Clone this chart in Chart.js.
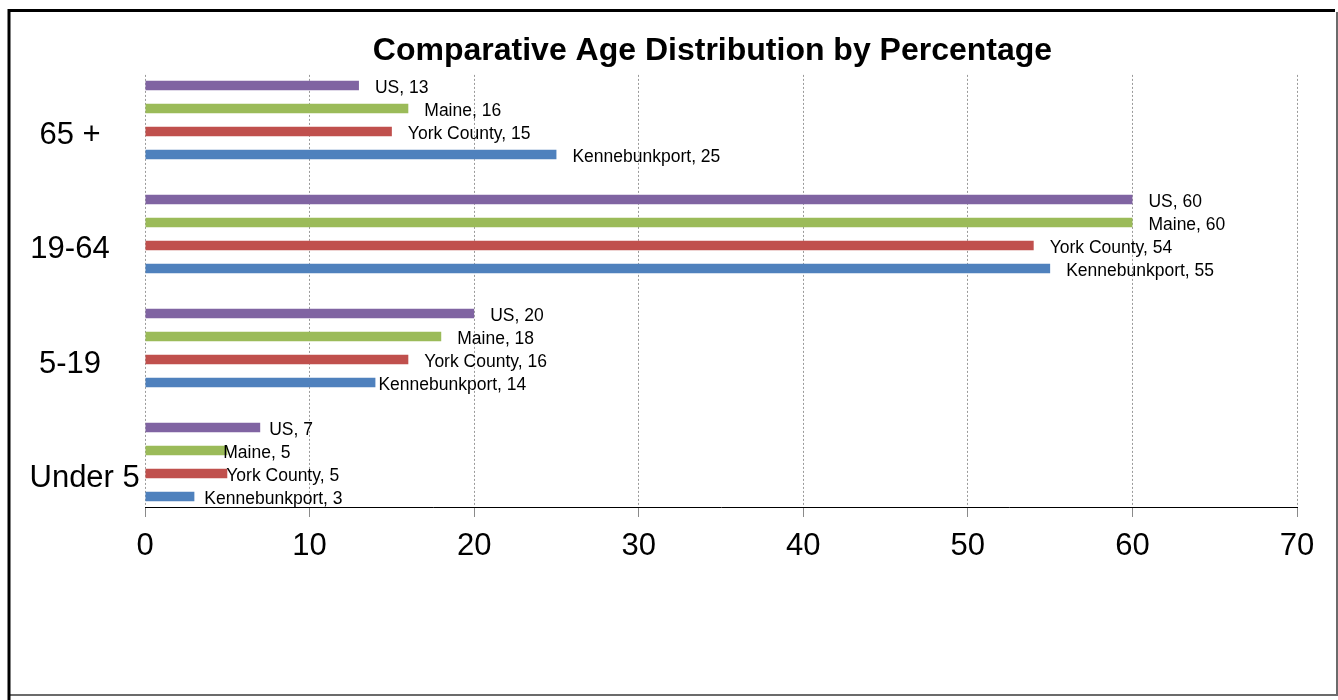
<!DOCTYPE html>
<html>
<head>
<meta charset="utf-8">
<title>Comparative Age Distribution by Percentage</title>
<script src="https://cdn.jsdelivr.net/npm/chart.js@4.4.1/dist/chart.umd.min.js"></script>
<style>
  html, body { margin: 0; padding: 0; background: #ffffff; }
  #wrap { position: relative; width: 1338px; height: 700px; }
</style>
</head>
<body>
<div id="wrap"><canvas id="chart" width="1338" height="700"></canvas></div>
<script>
// Age groups, listed top to bottom
const categories = ['65 +', '19-64', '5-19', 'Under 5'];

// Share of population (%) in each age group
const usValues            = [13, 60, 20, 7];
const maineValues         = [16, 60, 18, 5];
const yorkCountyValues    = [15, 54, 16, 5];
const kennebunkportValues = [25, 55, 14, 3];

const seriesNames = ['US', 'Maine', 'York County', 'Kennebunkport'];

// Percentage axis
const xMin = 0;
const xMax = 70;
const xStep = 10;

// Hand-placed nudges (px) for value labels that would otherwise collide
const labelShift = {
  'US':            [0, 0, 0, -7],
  'Maine':         [0, 0, 0, -20],
  'York County':   [0, 0, 0, -17],
  'Kennebunkport': [0, 0, -13, -6]
};

const FONT = "'Liberation Sans', Arial, Helvetica, sans-serif";
Chart.defaults.font.family = FONT;

const palette = ['#8064A2', '#9BBB59', '#C0504D', '#4F81BD'];
const seriesValues = [usValues, maineValues, yorkCountyValues, kennebunkportValues];

const datasets = seriesNames.map((name, s) => ({
  label: name,
  data: seriesValues[s].map((v, i) => ({ x: v, y: i })),
  backgroundColor: palette[s],
  borderWidth: 0,
  categoryPercentage: 0.807,
  barPercentage: 0.41
}));

// "Series, value" labels just past the end of each bar
const valueLabels = {
  id: 'valueLabels',
  afterDatasetsDraw(chart) {
    const ctx = chart.ctx;
    ctx.save();
    ctx.font = '17.5px ' + FONT;
    ctx.fillStyle = '#000000';
    ctx.textAlign = 'left';
    ctx.textBaseline = 'middle';
    chart.data.datasets.forEach((ds, s) => {
      const meta = chart.getDatasetMeta(s);
      meta.data.forEach((bar, i) => {
        const shift = (labelShift[ds.label] || [])[i] || 0;
        ctx.fillText(ds.label + ', ' + ds.data[i].x, bar.x + 16 + shift, bar.y + 3);
      });
    });
    ctx.restore();
  }
};

// Age-group names beside each group of bars
const groupLabels = {
  id: 'groupLabels',
  afterDraw(chart) {
    const ctx = chart.ctx;
    const yScale = chart.scales.y;
    ctx.save();
    ctx.font = '31px ' + FONT;
    ctx.fillStyle = '#000000';
    ctx.textBaseline = 'middle';
    ctx.textAlign = 'left';
    categories.forEach((name, i) => {
      const w = ctx.measureText(name).width;
      const left = Math.max(70 - w / 2, 29.5);
      ctx.fillText(name, left, yScale.getPixelForValue(i) + 16);
    });
    ctx.restore();
  }
};

// Outer frame of the chart object
const frame = {
  id: 'frame',
  afterDraw(chart) {
    const ctx = chart.ctx;
    ctx.save();
    ctx.lineCap = 'butt';
    ctx.strokeStyle = '#6b6b6b';
    ctx.lineWidth = 2;
    ctx.beginPath();
    ctx.moveTo(1337, 12); ctx.lineTo(1337, 696);
    ctx.moveTo(10, 695); ctx.lineTo(1338, 695);
    ctx.stroke();
    ctx.strokeStyle = '#000000';
    ctx.lineWidth = 3;
    ctx.beginPath();
    ctx.moveTo(7.5, 10.5); ctx.lineTo(1335, 10.5);
    ctx.moveTo(9, 9); ctx.lineTo(9, 700);
    ctx.stroke();
    ctx.restore();
  }
};

new Chart(document.getElementById('chart'), {
  type: 'bar',
  data: { datasets },
  options: {
    indexAxis: 'y',
    responsive: false,
    animation: false,
    devicePixelRatio: 1,
    layout: { padding: { top: 21.5, left: 128, right: 41, bottom: 0 } },
    plugins: {
      legend: { display: false },
      tooltip: { enabled: false },
      title: {
        display: true,
        text: 'Comparative Age Distribution by Percentage',
        color: '#000000',
        font: { family: FONT, size: 32, weight: 'bold' },
        padding: { top: 10, bottom: 5 }
      }
    },
    scales: {
      x: {
        type: 'linear',
        position: 'bottom',
        min: xMin,
        max: xMax,
        ticks: {
          stepSize: xStep,
          color: '#000000',
          font: { family: FONT, size: 31 },
          padding: 11,
          maxRotation: 0
        },
        grid: {
          color: '#9a9a9a',
          lineWidth: 1,
          drawTicks: true,
          tickLength: 10,
          tickColor: '#8a8a8a'
        },
        border: { display: true, color: '#000000', width: 1, dash: [2, 2] },
        afterFit(scale) { scale.height = 193; }
      },
      y: {
        type: 'linear',
        reverse: true,
        offset: false,
        min: -0.395,
        max: categories.length - 1 + 0.395,
        afterBuildTicks(scale) {
          scale.ticks = categories.map((_, i) => ({ value: i }));
        },
        ticks: { display: false },
        grid: { display: false, offset: false },
        border: { display: false },
        afterFit(scale) { scale.width = 17; }
      }
    }
  },
  plugins: [valueLabels, groupLabels, frame]
});
</script>
</body>
</html>
